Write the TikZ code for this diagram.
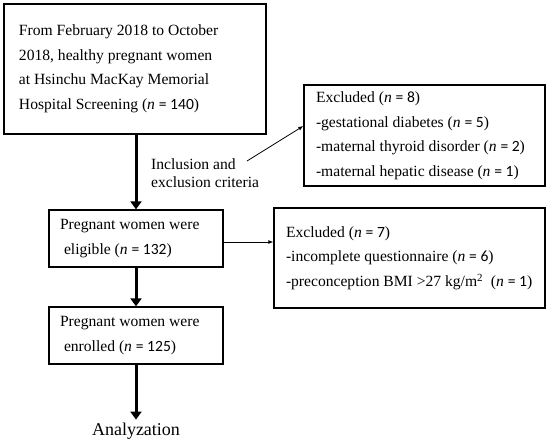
\documentclass[tikz,border=0pt]{standalone}
\usepackage{fontspec}
\setmainfont{Liberation Serif}
\newfontfamily\numfont{Carlito}
\usetikzlibrary{arrows.meta,positioning}
\newcommand{\ncount}[1]{(\textit{n} {\numfont = #1})}

\begin{document}
\begin{tikzpicture}[
  x=1pt, y=-1pt,
  every node/.style={font=\fontsize{15.6}{24.5}\selectfont},
  box/.style={
    rectangle,
    draw,
    line width=1.3pt,
    align=flush left,
    inner xsep=11pt,
    inner ysep=0pt
  },
  main arrow/.style={draw, line width=3pt, -{Triangle[length=8pt,width=11pt]}},
  side arrow/.style={draw, line width=0.8pt, -{Latex[length=5pt,width=4pt]}}
]
\useasboundingbox (0,0) rectangle (550,442);

\node[box, inner xsep=15pt, text width=232pt, minimum height=130pt] (screen) at (135,69)
  {From February 2018 to October\\ 2018, healthy pregnant women\\ at Hsinchu MacKay Memorial\\ Hospital Screening \ncount{140}};
\node[box, text width=152pt, minimum height=57pt] (elig) at (136,238.5)
  {Pregnant women were\\ \hspace*{4pt}eligible \ncount{132}};
\node[box, text width=152pt, minimum height=57pt] (enrol) at (136,335.5)
  {Pregnant women were\\ \hspace*{4pt}enrolled \ncount{125}};
\node[inner sep=3pt, font=\fontsize{18}{20}\selectfont] (anlz) at (136,431) {Analyzation};

\node[box, inner xsep=12pt, text width=217pt, minimum height=101pt] (excl1) at (424.5,135.5)
  {Excluded \ncount{8}\\ -gestational diabetes \ncount{5}\\ -maternal thyroid disorder \ncount{2}\\ -maternal hepatic disease \ncount{1}};
\node[box, inner xsep=12pt, text width=247pt, minimum height=100pt] (excl2) at (409.5,258)
  {Excluded \ncount{7}\\ -incomplete questionnaire \ncount{6}\\ \mbox{-preconception BMI >27 kg/m\textsuperscript{2}\ \ \ncount{1}}};

% criteria label and its pointer
\node[anchor=west, inner sep=0pt, align=flush left, font=\fontsize{15.6}{17.5}\selectfont] (crit) at (151,173)
  {Inclusion and\\ exclusion criteria};
\coordinate (critend) at (247,161);

\draw[main arrow] (screen.south -| elig.north) -- (elig.north);
\draw[main arrow] (elig) -- (enrol);
\draw[main arrow] (enrol) -- (anlz);
\draw[side arrow] (critend) -- ([yshift=9.5pt]excl1.west);
\draw[side arrow] ([yshift=-3.5pt]elig.east) coordinate (eligout) -- (eligout -| excl2.west);
\end{tikzpicture}
\end{document}
